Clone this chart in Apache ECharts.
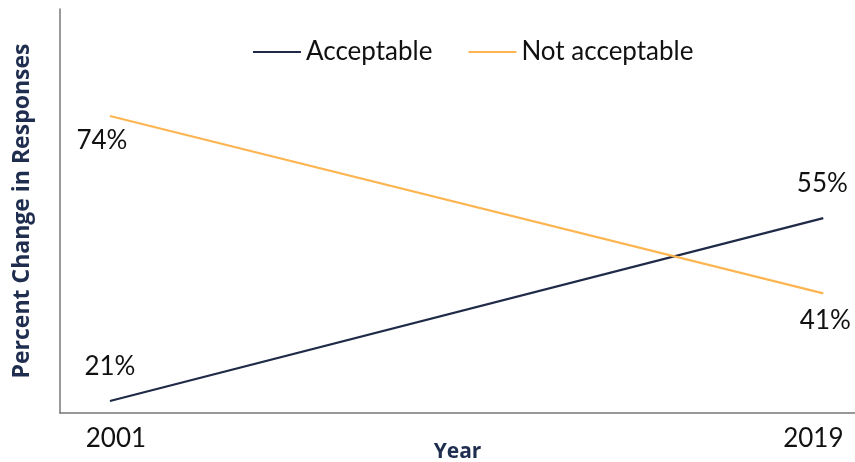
<!DOCTYPE html>
<html><head><meta charset="utf-8">
<script src="https://cdn.jsdelivr.net/npm/echarts@6/dist/echarts.min.js"></script>
<style>html,body{margin:0;padding:0;background:#fff}#c{width:855px;height:462px}</style>
</head><body><div id="c"></div>
<script>
var years = [2001, 2019];
var acceptable = [21, 55];
var notAcceptable = [74, 41];
var seriesNames = ['Acceptable', 'Not acceptable'];

var accOffsets = [[0, -34], [-1, -35]];
var notOffsets = [[-8, 25], [2, 27]];

function build(vals, offs) {
  return vals.map(function (v, i) {
    return { value: [years[i], v], label: { offset: offs[i] } };
  });
}
var font = 'Lato';
var titleFont = 'Open Sans';
var chart = echarts.init(document.getElementById('c'));
chart.setOption({
  animation: false,
  textStyle: { fontFamily: font },
  grid: { left: 60, right: 0, top: 9, bottom: 49, outerBoundsMode: 'none', containLabel: false },
  legend: {
    top: 34, left: 248,
    icon: 'rect', itemWidth: 48, itemHeight: 2, itemGap: 36,
    textStyle: { fontSize: 26, color: '#111', fontFamily: font },
    data: seriesNames
  },
  xAxis: {
    type: 'value', min: 1999.74, max: 2019.8,
    name: 'Year', nameLocation: 'middle', nameGap: 29, nameMoveOverlap: false,
    nameTextStyle: { fontSize: 21, fontWeight: 'bold', color: '#1f2d4f', fontFamily: titleFont },
    axisLine: { show: true, lineStyle: { color: '#777', width: 1.5 } },
    axisTick: { show: false },
    splitLine: { show: false },
    axisLabel: { customValues: years,
      formatter: function (v) { return (v === years[0] ? '{a|' : '{b|') + v + '}'; },
      rich: { a: { padding: [0, 0, 0, 12] }, b: { padding: [0, 20, 0, 0] } },
      fontSize: 26, color: '#111', margin: 13, fontFamily: font }
  },
  yAxis: {
    type: 'value', min: 18.76, max: 93.9,
    name: 'Percent Change in Responses', nameLocation: 'middle', nameGap: 26, nameMoveOverlap: false,
    nameTextStyle: { fontSize: 23, fontWeight: 'bold', color: '#1f2d4f', fontFamily: titleFont },
    axisLine: { show: true, lineStyle: { color: '#777', width: 1.5 } },
    axisTick: { show: false }, axisLabel: { show: false }, splitLine: { show: false }
  },
  series: [
    { name: seriesNames[0], type: 'line', data: build(acceptable, accOffsets),
      symbol: 'circle', symbolSize: 0, showSymbol: true,
      lineStyle: { color: '#1f2a48', width: 2.2 }, itemStyle: { color: '#1f2a48' },
      label: { show: true, position: 'inside', formatter: function (p) { return p.value[1] + '%'; },
        fontSize: 26, color: '#111', fontFamily: font } },
    { name: seriesNames[1], type: 'line', data: build(notAcceptable, notOffsets),
      symbol: 'circle', symbolSize: 0, showSymbol: true,
      lineStyle: { color: '#fdb551', width: 2.2 }, itemStyle: { color: '#fdb551' },
      label: { show: true, position: 'inside', formatter: function (p) { return p.value[1] + '%'; },
        fontSize: 26, color: '#111', fontFamily: font } }
  ]
});
</script></body></html>
